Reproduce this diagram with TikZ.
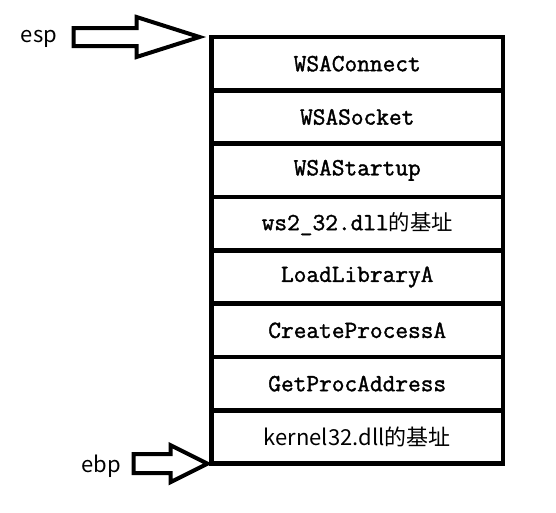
\documentclass[tikz,border=0pt]{standalone}
\usepackage{fontspec}
\newfontfamily\cjk{Noto Sans CJK SC}
\newfontfamily\stackfont{Latin Modern Mono}[FakeBold=1.5]
\usetikzlibrary{positioning}
\begin{document}
\begin{tikzpicture}[x=.75pt,y=-.75pt,
		slot/.style={draw,line width=3.6pt,outer sep=0pt,inner sep=0pt,minimum width=218.6pt,minimum height=40pt,font=\stackfont\fontsize{18.5}{20}\selectfont},
		blk/.style={draw,line width=3pt,line join=miter},
		reg/.style={font=\cjk\fontsize{16.5}{18}\selectfont}]
		\useasboundingbox (0,0) rectangle (556,512);

		\node[slot,anchor=north west] (s1) at (211.5,37) {WSAConnect};
		\node[slot,below=0pt of s1] (s2) {WSASocket};
		\node[slot,below=0pt of s2] (s3) {WSAStartup};
		\node[slot,below=0pt of s3] (s4) {ws2\_32.dll{\cjk\fontsize{16}{18}\selectfont 的基址}};
		\node[slot,below=0pt of s4] (s5) {LoadLibraryA};
		\node[slot,below=0pt of s5] (s6) {CreateProcessA};
		\node[slot,below=0pt of s6] (s7) {GetProcAddress};
		\node[slot,below=0pt of s7,font=\cjk\fontsize{16.5}{18}\selectfont] (s8) {kernel32.dll的基址};

		\coordinate (esptip) at ([xshift=-9pt]s1.north west);
		\draw[blk] (esptip)--++(-63,-20)--++(0,11)--++(-63,0)--++(0,18)--++(63,0)--++(0,11)--cycle;
		\node[reg] (esp) at (39,39) {esp};

		\coordinate (ebptip) at ([xshift=-3pt]s8.south west);
		\draw[blk] (ebptip)--++(-37,-18.5)--++(0,9)--++(-37,0)--++(0,19)--++(37,0)--++(0,9)--cycle;
		\node[reg] (ebp) at (101,466) {ebp};
	\end{tikzpicture}
\end{document}
